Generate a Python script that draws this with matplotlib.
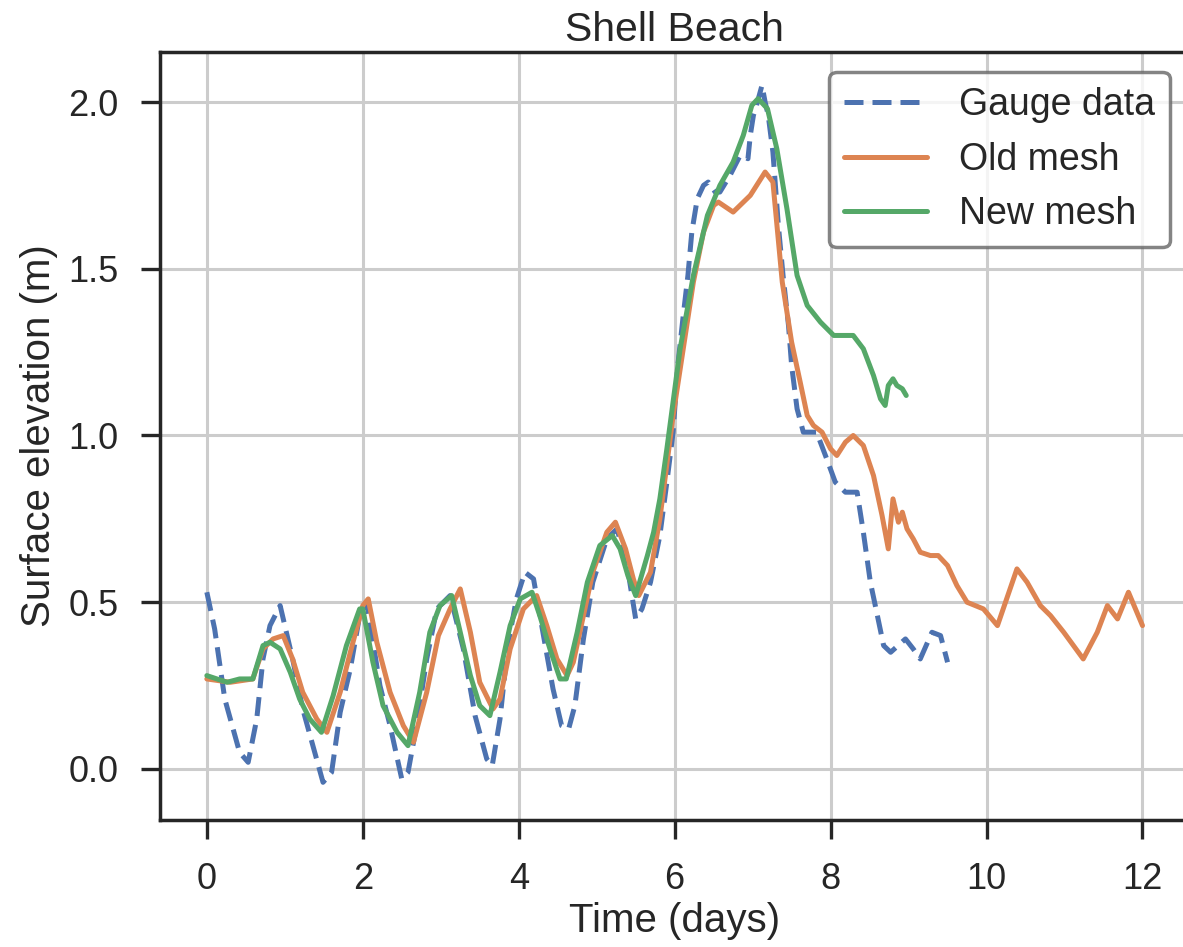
import matplotlib
matplotlib.use("Agg")
import matplotlib.pyplot as plt

# gauge record (days, m)
gauge_t = [0.00, 0.10, 0.23, 0.42, 0.53, 0.64, 0.72, 0.81, 0.94, 1.10,
           1.23, 1.36, 1.49, 1.60, 1.71, 1.84, 1.96, 2.05, 2.22, 2.35,
           2.50, 2.58, 2.69, 2.82, 2.95, 3.12, 3.29, 3.44, 3.59, 3.66,
           3.76, 3.86, 3.97, 4.08, 4.19, 4.31, 4.44, 4.55, 4.64, 4.72,
           4.83, 4.95, 5.13, 5.26, 5.39, 5.50, 5.58, 5.69, 5.81, 5.90,
           5.98, 6.04, 6.11, 6.17, 6.22, 6.29, 6.37, 6.43, 6.52, 6.58,
           6.71, 6.84, 6.94, 6.97, 7.01, 7.05, 7.12, 7.16, 7.20, 7.26,
           7.33, 7.39, 7.46, 7.50, 7.57, 7.65, 7.74, 7.82, 7.95, 8.06,
           8.19, 8.34, 8.42, 8.51, 8.60, 8.68, 8.77, 8.96, 9.06, 9.15,
           9.30, 9.41, 9.50]
gauge_h = [0.53, 0.42, 0.21, 0.05, 0.02, 0.15, 0.33, 0.43, 0.49, 0.33,
           0.18, 0.07, -0.04, -0.01, 0.17, 0.30, 0.46, 0.50, 0.25, 0.13,
           -0.03, -0.01, 0.13, 0.33, 0.48, 0.52, 0.36, 0.16, 0.03, 0.01,
           0.15, 0.37, 0.51, 0.59, 0.57, 0.41, 0.24, 0.13, 0.12, 0.19,
           0.39, 0.56, 0.69, 0.72, 0.61, 0.45, 0.48, 0.56, 0.70, 0.86,
           1.01, 1.21, 1.36, 1.48, 1.61, 1.71, 1.75, 1.76, 1.73, 1.73,
           1.78, 1.84, 1.83, 1.90, 1.96, 1.99, 2.05, 2.00, 1.96, 1.85,
           1.63, 1.48, 1.33, 1.21, 1.08, 1.01, 1.01, 1.01, 0.93, 0.86,
           0.83, 0.83, 0.71, 0.56, 0.46, 0.37, 0.35, 0.39, 0.36, 0.33,
           0.41, 0.40, 0.32]

# old mesh model
old_t = [0.00, 0.30, 0.59, 0.72, 0.85, 0.98, 1.10, 1.23, 1.41, 1.54,
         1.71, 1.84, 2.00, 2.07, 2.18, 2.35, 2.52, 2.65, 2.82, 2.97,
         3.12, 3.25, 3.38, 3.50, 3.67, 3.76, 3.89, 4.06, 4.23, 4.36,
         4.49, 4.62, 4.70, 4.83, 4.95, 5.13, 5.24, 5.37, 5.47, 5.54,
         5.69, 5.81, 5.98, 6.11, 6.24, 6.37, 6.50, 6.56, 6.75, 6.97,
         7.16, 7.26, 7.38, 7.50, 7.61, 7.70, 7.78, 7.89, 8.00, 8.08,
         8.19, 8.29, 8.42, 8.55, 8.66, 8.74, 8.80, 8.87, 8.92, 8.98,
         9.06, 9.15, 9.28, 9.38, 9.50, 9.62, 9.75, 9.96, 10.14, 10.39,
         10.52, 10.69, 10.82, 10.99, 11.24, 11.42, 11.55, 11.68, 11.82, 12.00]
old_h = [0.27, 0.26, 0.27, 0.36, 0.39, 0.40, 0.33, 0.23, 0.15, 0.11,
         0.23, 0.35, 0.49, 0.51, 0.38, 0.23, 0.13, 0.08, 0.23, 0.40,
         0.48, 0.54, 0.41, 0.26, 0.18, 0.21, 0.36, 0.48, 0.52, 0.43,
         0.33, 0.28, 0.32, 0.46, 0.59, 0.71, 0.74, 0.66, 0.57, 0.52,
         0.59, 0.75, 1.06, 1.26, 1.46, 1.61, 1.69, 1.70, 1.67, 1.72,
         1.79, 1.76, 1.46, 1.28, 1.16, 1.06, 1.03, 1.01, 0.96, 0.94,
         0.98, 1.00, 0.97, 0.88, 0.76, 0.66, 0.81, 0.74, 0.77, 0.72,
         0.69, 0.65, 0.64, 0.64, 0.61, 0.55, 0.50, 0.48, 0.43, 0.60,
         0.56, 0.49, 0.46, 0.41, 0.33, 0.41, 0.49, 0.45, 0.53, 0.43]

# new mesh model
new_t = [0.00, 0.26, 0.42, 0.59, 0.72, 0.81, 0.94, 1.07, 1.19, 1.32,
         1.47, 1.62, 1.79, 1.96, 2.00, 2.13, 2.26, 2.44, 2.58, 2.73,
         2.86, 2.99, 3.14, 3.25, 3.38, 3.50, 3.63, 3.76, 3.89, 4.02,
         4.17, 4.27, 4.40, 4.53, 4.61, 4.75, 4.88, 5.04, 5.20, 5.30,
         5.40, 5.50, 5.65, 5.73, 5.81, 5.90, 6.07, 6.24, 6.42, 6.58,
         6.75, 6.88, 6.99, 7.07, 7.19, 7.31, 7.44, 7.57, 7.70, 7.87,
         8.04, 8.29, 8.42, 8.55, 8.64, 8.70, 8.74, 8.80, 8.85, 8.92,
         8.97]
new_h = [0.28, 0.26, 0.27, 0.27, 0.37, 0.38, 0.36, 0.29, 0.21, 0.15,
         0.11, 0.22, 0.37, 0.48, 0.48, 0.32, 0.19, 0.11, 0.07, 0.23,
         0.41, 0.49, 0.52, 0.41, 0.28, 0.19, 0.16, 0.29, 0.43, 0.51,
         0.53, 0.46, 0.36, 0.27, 0.27, 0.41, 0.56, 0.67, 0.70, 0.66,
         0.58, 0.52, 0.64, 0.71, 0.81, 0.96, 1.26, 1.48, 1.66, 1.75,
         1.82, 1.90, 1.99, 2.01, 1.98, 1.86, 1.68, 1.48, 1.39, 1.34,
         1.30, 1.30, 1.26, 1.18, 1.11, 1.09, 1.15, 1.17, 1.15, 1.14,
         1.12]

plt.rcParams['font.family'] = ['Liberation Sans', 'DejaVu Sans']
plt.rcParams['text.color'] = '#262626'
plt.rcParams['axes.labelcolor'] = '#262626'
plt.rcParams['xtick.color'] = '#262626'
plt.rcParams['ytick.color'] = '#262626'

fig = plt.figure(figsize=(11.83, 9.47), dpi=100)
ax = fig.add_axes([0.1353, 0.1341, 0.870, 0.811])

lw = 3.6
ax.plot(gauge_t, gauge_h, color='#4C72B0', lw=lw, ls=(0, (3.8, 1.8)),
        dash_joinstyle='round', label='Gauge data')
ax.plot(old_t, old_h, color='#DD8452', lw=lw, solid_joinstyle='round',
        solid_capstyle='round', label='Old mesh')
ax.plot(new_t, new_h, color='#55A868', lw=lw, solid_joinstyle='round',
        solid_capstyle='round', label='New mesh')

ax.set_xticks([0, 2, 4, 6, 8, 10, 12])
ax.set_yticks([0.0, 0.5, 1.0, 1.5, 2.0])
ax.set_ylim(-0.153, 2.15)
ax.grid(True, color='#cccccc', lw=2.2)
ax.set_axisbelow(True)
for s in ax.spines.values():
    s.set_linewidth(2.5)
    s.set_color('#262626')
ax.tick_params(labelsize=26, length=14, width=2.4, pad=16)

ax.set_xlabel('Time (days)', fontsize=29, labelpad=4)
ax.set_ylabel('Surface elevation (m)', fontsize=29, labelpad=7)
ax.set_title('Shell Beach', fontsize=29.5, pad=8)

leg = ax.legend(loc='upper right', bbox_to_anchor=(0.981, 0.974), borderaxespad=0,
                fontsize=27, handlelength=2.2, handletextpad=0.85, borderpad=0.4,
                labelspacing=0.5, framealpha=0.8, fancybox=True)
leg.get_frame().set_edgecolor('#666666')
leg.get_frame().set_linewidth(2.5)

fig.savefig('out.png', dpi=100)
